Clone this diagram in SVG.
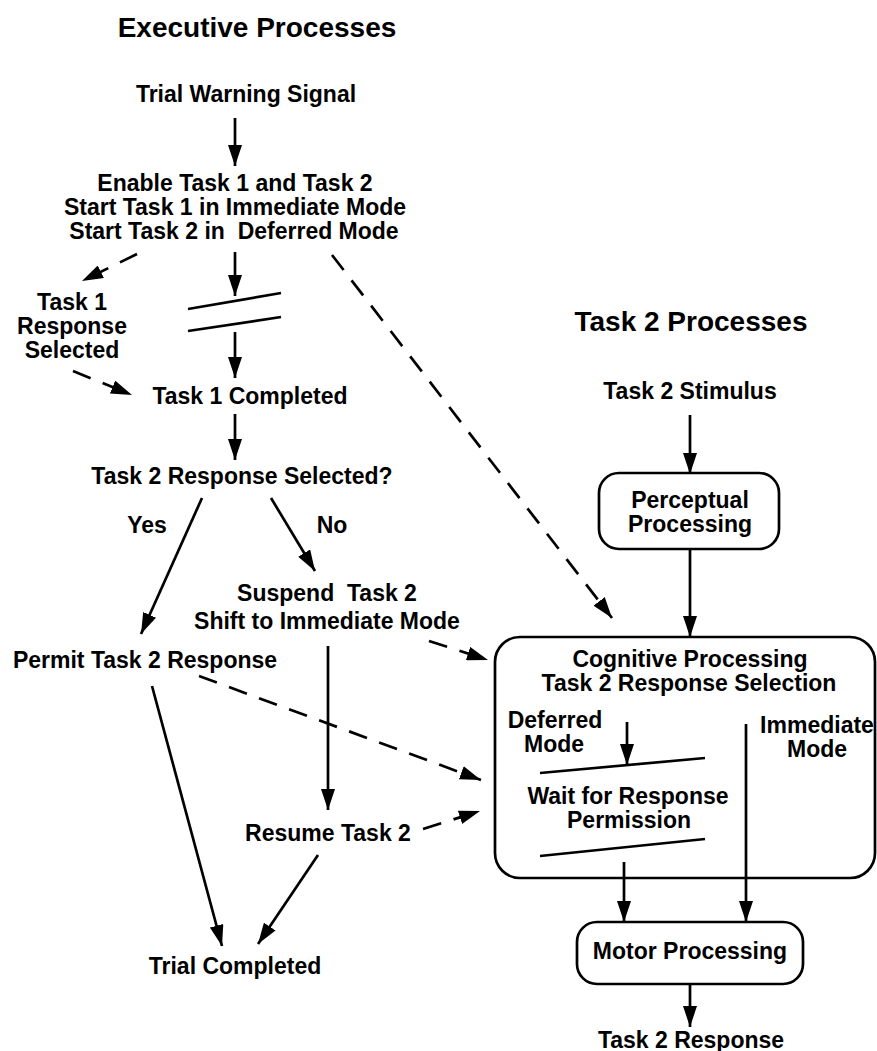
<svg xmlns="http://www.w3.org/2000/svg" width="877" height="1051" viewBox="0 0 877 1051">
<style>
text{font-family:"Liberation Sans",Arial,sans-serif;font-weight:bold;font-size:23px;fill:#000;text-anchor:middle;white-space:pre}
.title{font-size:28px}
.ln{stroke:#000;stroke-width:2.7;fill:none}
.arr{marker-end:url(#ah)}
.dash{stroke-dasharray:19 13}
.box{stroke:#000;stroke-width:2.7;fill:#fff}
</style>
<defs>
<marker id="ah" markerUnits="userSpaceOnUse" markerWidth="22" markerHeight="14" viewBox="0 0 22 14" refX="21" refY="7" orient="auto">
<path d="M0,0 L21,7 L0,14 z" fill="#000"/>
</marker>
</defs>
<rect width="877" height="1051" fill="#fff"/>
<g id="connectors">
<line class="ln arr" x1="235" y1="118" x2="235" y2="166"/>
<line class="ln arr dash" x1="137" y1="254" x2="82" y2="281"/>
<line class="ln arr" x1="235" y1="252" x2="235" y2="296"/>
<line class="ln" x1="188" y1="309" x2="281" y2="293"/>
<line class="ln" x1="188" y1="331" x2="281" y2="317"/>
<line class="ln arr" x1="235" y1="332" x2="235" y2="378"/>
<line class="ln arr dash" x1="73" y1="371" x2="132" y2="395"/>
<line class="ln arr" x1="235" y1="414" x2="235" y2="460"/>
<line class="ln arr" x1="202" y1="498" x2="141" y2="634"/>
<line class="ln arr" x1="271" y1="498" x2="315" y2="571"/>
<line class="ln arr" x1="328" y1="646" x2="328" y2="810"/>
<line class="ln arr dash" x1="429" y1="641" x2="488" y2="660"/>
<line class="ln arr dash" x1="199" y1="676" x2="481" y2="780"/>
<line class="ln arr" x1="152" y1="686" x2="222" y2="946"/>
<line class="ln arr" x1="318" y1="855" x2="258" y2="944"/>
<line class="ln arr dash" x1="423" y1="829" x2="480" y2="811"/>
<line class="ln arr dash" x1="332" y1="255" x2="612" y2="618"/>
<line class="ln arr" x1="690" y1="415" x2="690" y2="474"/>
<line class="ln arr" x1="690" y1="549" x2="690" y2="637"/>
<line class="ln arr" x1="627" y1="722" x2="627" y2="765"/>
<line class="ln" x1="540" y1="773" x2="705" y2="758"/>
<line class="ln" x1="540" y1="856" x2="705" y2="839"/>
<line class="ln arr" x1="624" y1="862" x2="624" y2="922"/>
<line class="ln arr" x1="746" y1="724" x2="746" y2="922"/>
<line class="ln arr" x1="690" y1="984" x2="690" y2="1027"/>
</g>
<g id="executive-title"><text class="title" x="257" y="37">Executive Processes</text></g>
<g id="trial-warning"><text x="246" y="102">Trial Warning Signal</text></g>
<g id="enable">
<text x="235" y="191">Enable Task 1 and Task 2</text>
<text x="235" y="215">Start Task 1 in Immediate Mode</text>
<text x="234" y="239">Start Task 2 in  Deferred Mode</text>
</g>
<g id="task1-response"><text x="72" y="310">Task 1</text><text x="72" y="334">Response</text><text x="72" y="358">Selected</text></g>
<g id="task1-completed"><text x="250" y="404">Task 1 Completed</text></g>
<g id="task2-selected"><text x="242" y="484">Task 2 Response Selected?</text></g>
<g id="yes-label"><text x="147" y="533">Yes</text></g>
<g id="no-label"><text x="332" y="533">No</text></g>
<g id="suspend"><text x="327" y="601">Suspend  Task 2</text><text x="327" y="629">Shift to Immediate Mode</text></g>
<g id="permit"><text x="145" y="668">Permit Task 2 Response</text></g>
<g id="resume"><text x="328" y="841">Resume Task 2</text></g>
<g id="trial-completed"><text x="235" y="974">Trial Completed</text></g>
<g id="task2-title"><text class="title" x="691" y="331">Task 2 Processes</text></g>
<g id="stimulus"><text x="690" y="399">Task 2 Stimulus</text></g>
<g id="perceptual">
<rect class="box" x="599" y="473" width="180" height="76" rx="20"/>
<text x="690" y="508">Perceptual</text><text x="690" y="532">Processing</text>
</g>
<g id="cognitive">
<rect class="box" x="495" y="637" width="380" height="241" rx="25" style="fill:none"/>
<text x="690" y="667">Cognitive Processing</text>
<text x="689" y="691">Task 2 Response Selection</text>
<text x="555" y="728">Deferred</text><text x="554" y="752">Mode</text>
<text x="817" y="733">Immediate</text><text x="817" y="757">Mode</text>
<text x="628" y="804">Wait for Response</text><text x="629" y="828">Permission</text>
</g>
<g id="motor">
<rect class="box" x="577" y="922" width="226" height="62" rx="20"/>
<text x="690" y="959">Motor Processing</text>
</g>
<g id="response"><text x="691" y="1048">Task 2 Response</text></g>
</svg>
